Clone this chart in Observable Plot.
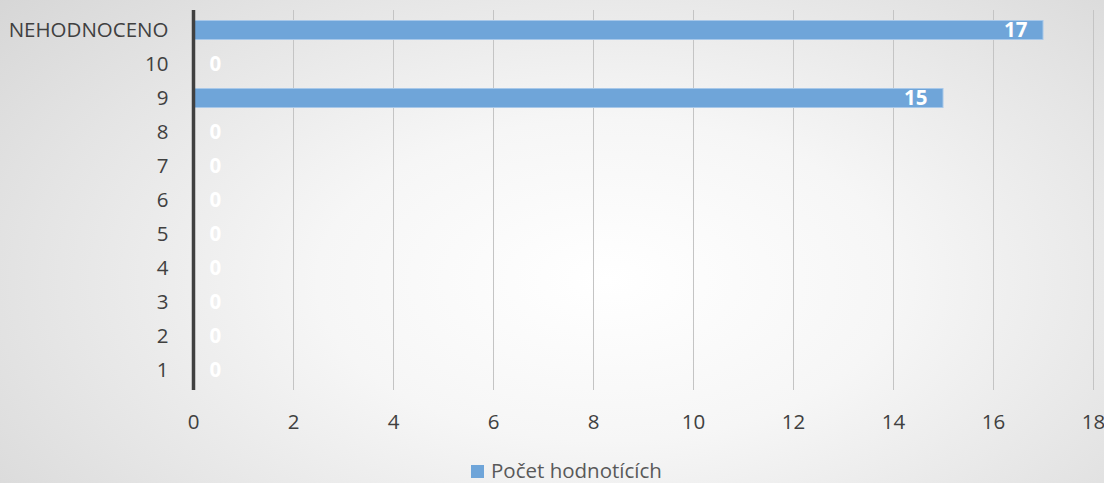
<!DOCTYPE html>
<html>
<head>
<meta charset="utf-8">
<script src="https://cdn.jsdelivr.net/npm/d3@7"></script>
<script src="https://cdn.jsdelivr.net/npm/@observablehq/plot@0.6"></script>
<style>
  html, body { margin: 0; padding: 0; }
  #wrap {
    width: 1104px; height: 483px; overflow: hidden; position: relative;
    background: radial-gradient(ellipse 75% 95% at 55% 58%, #ffffff 0%, #f6f6f6 35%, #e4e4e4 70%, #d4d4d4 100%);
    font-family: "Open Sans", "Noto Sans", sans-serif;
  }
  #chart svg text { font-size: 20.5px; }
  #chart svg text.lbl { font-size: 20px; }
  #legend {
    position: absolute; left: 471px; top: 456px; white-space: nowrap;
    font-size: 20.5px; color: #595959; line-height: 28px;
  }
  #legend .sw { display: inline-block; width: 13px; height: 13px; background: #6fa5d9; margin-right: 7px; vertical-align: 0px; }
</style>
</head>
<body>
<div id="wrap">
  <div id="chart"></div>
  <div id="legend"><span class="sw"></span>Počet hodnotících</div>
</div>
<script>
const categories = ["NEHODNOCENO", "10", "9", "8", "7", "6", "5", "4", "3", "2", "1"];
const values = [17, 0, 15, 0, 0, 0, 0, 0, 0, 0, 0];
const xTicks = [0, 2, 4, 6, 8, 10, 12, 14, 16, 18];
const seriesName = "Počet hodnotících";

const data = categories.map((c, i) => ({category: c, value: values[i]}));

const chart = Plot.plot({
  width: 1104,
  height: 450,
  marginLeft: 193,
  marginRight: 11,
  marginTop: 10,
  marginBottom: 60,
  style: {background: "transparent", fontFamily: "'Open Sans', 'Noto Sans', sans-serif", fontSize: "20.5px", color: "#404040"},
  x: {domain: [0, 18], ticks: xTicks, tickSize: 0, tickPadding: 24, label: null},
  y: {domain: categories, padding: 0, tickSize: 0, tickPadding: 25, label: null},
  marks: [
    Plot.ruleX(xTicks.filter(d => d > 0), {stroke: "#c4c4c4", strokeWidth: 1}),
    Plot.barX(data, {x: "value", y: "category", insetTop: 7.5, insetBottom: 7.5, fill: "#6fa5d9", stroke: "#a8c8e9", strokeWidth: 1}),
    Plot.ruleX([0], {stroke: "#404040", strokeWidth: 3.5}),
    Plot.text(data.filter(d => d.value > 0), {x: "value", y: "category", text: d => String(d.value), textAnchor: "end", dx: -16, fill: "white", fontWeight: "bold", fontSize: 20}),
    Plot.text(data.filter(d => d.value === 0), {x: "value", y: "category", text: d => String(d.value), textAnchor: "start", dx: 16, fill: "white", fontWeight: "bold", fontSize: 20})
  ]
});
document.getElementById("chart").appendChild(chart);
</script>
</body>
</html>
